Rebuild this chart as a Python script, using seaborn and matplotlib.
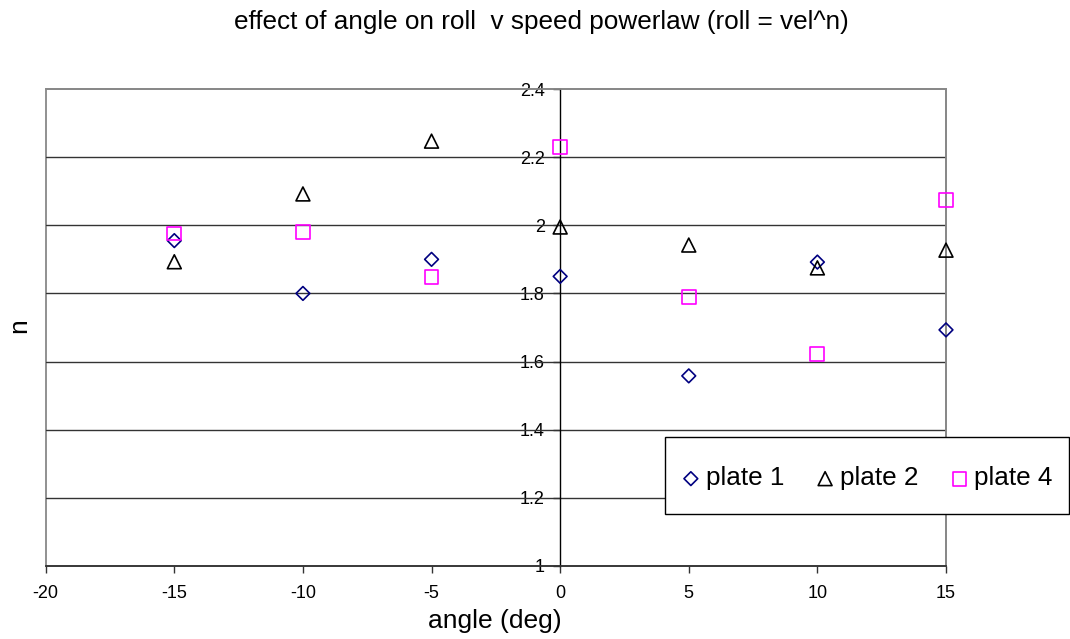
import matplotlib
matplotlib.use("Agg")
import matplotlib.pyplot as plt
import seaborn as sns
import numpy as np
from matplotlib.patches import Rectangle

# ---- data ----
angles = [-15, -10, -5, 0, 5, 10, 15]
plate1 = [1.955, 1.80, 1.90, 1.85, 1.558, 1.892, 1.693]
plate2 = [1.893, 2.092, 2.247, 1.995, 1.942, 1.875, 1.927]
plate4 = [1.976, 1.980, 1.848, 2.229, 1.789, 1.622, 2.073]
series_names = ["plate 1", "plate 2", "plate 4"]
xticks = [-20, -15, -10, -5, 0, 5, 10, 15]
yticks = [1.0, 1.2, 1.4, 1.6, 1.8, 2.0, 2.2, 2.4]
ytick_labels = ["1", "1.2", "1.4", "1.6", "1.8", "2", "2.2", "2.4"]

sns.set_style("white")
plt.rcParams['font.family'] = ['Liberation Sans', 'DejaVu Sans']
plt.rcParams['text.color'] = 'black'
plt.rcParams['xtick.labelcolor'] = 'black'
plt.rcParams['ytick.labelcolor'] = 'black'

W, H = 1070, 639
fig = plt.figure(figsize=(W / 100, H / 100), dpi=100)
ax_l, ax_r, ax_t, ax_b = 45.7, 946, 89, 566
ax = fig.add_axes([ax_l / W, 1 - ax_b / H, (ax_r - ax_l) / W, (ax_b - ax_t) / H])

styles = [
    (plate1, "D", 7.0, "#000080"),
    (plate2, "^", 10.0, "#000000"),
    (plate4, "s", 10.0, "#FF00FF"),
]
for (vals, mk, ms, col), name in zip(styles, series_names):
    sns.scatterplot(x=angles, y=vals, marker=mk, s=ms ** 2, color=col,
                    linewidth=1.2, ax=ax, label=name, legend=False, zorder=5,
                    clip_on=False)
    coll = ax.collections[-1]
    coll.set_facecolor("none")
    coll.set_edgecolor(col)
    coll.set_linewidth(1.2)

ax.set_xlim(-20, 15)
ax.set_ylim(1, 2.4)
ax.set_xticks(xticks)
ax.set_xticklabels([str(t) for t in xticks])
ax.set_yticks(yticks)
ax.set_yticklabels(ytick_labels)

# horizontal gridlines
for y in yticks[1:-1]:
    ax.axhline(y, color="#333333", lw=1.0, zorder=1)

# plot area border (grey)
for s in ["top", "right"]:
    ax.spines[s].set_color("#888888")
    ax.spines[s].set_linewidth(1.3)
ax.add_patch(Rectangle((0, 0), 1, 1, transform=ax.transAxes, fill=False,
                       edgecolor="#888888", lw=1.3, zorder=0.5, clip_on=False))
ax.spines["left"].set_position(("data", 0))
ax.spines["left"].set_color("#000000")
ax.spines["left"].set_linewidth(1.0)
ax.spines["bottom"].set_color("#333333")
ax.spines["bottom"].set_linewidth(1.3)

ax.tick_params(axis="x", direction="out", length=5, width=1, color="#333333",
               labelsize=13, pad=8.4, bottom=True, labelcolor="black")
ax.tick_params(axis="y", direction="out", length=5, width=1, color="#333333",
               labelsize=13, pad=6, left=True, labelcolor="black")

fig.text(495 / W, 1 - 621 / H, "angle (deg)", fontsize=19,
         ha="center", va="center", color="black")
fig.text(19 / W, 1 - 326 / H, "n", fontsize=19, rotation=90,
         ha="center", va="center", color="black")
fig.text(541 / W, 1 - 22 / H, "effect of angle on roll  v speed powerlaw (roll = vel^n)",
         fontsize=18.8, ha="center", va="center", color="black")

# legend frame (white box with black edge) in figure pixel coords
lx0, lx1, ly0, ly1 = 665, 1069, 437, 514
frame = Rectangle((lx0 / W, 1 - ly1 / H), (lx1 - lx0) / W, (ly1 - ly0) / H,
                  transform=fig.transFigure, facecolor="white",
                  edgecolor="black", lw=1.0, zorder=8, clip_on=False)
ax.add_artist(frame)
leg_cy = (ly0 + ly1) / 2 + 3
leg = ax.legend(loc="center left",
                bbox_to_anchor=((lx0 - ax_l) / (ax_r - ax_l), (ax_b - leg_cy) / (ax_b - ax_t)),
                ncol=3, fontsize=18.8, frameon=False, borderpad=0.64,
                handletextpad=0.22, columnspacing=1.22, handlelength=0.7,
                borderaxespad=0)
leg.set_zorder(20)
for t in leg.get_texts():
    t.set_color("black")

fig.savefig("out.png", dpi=100, facecolor="white")
